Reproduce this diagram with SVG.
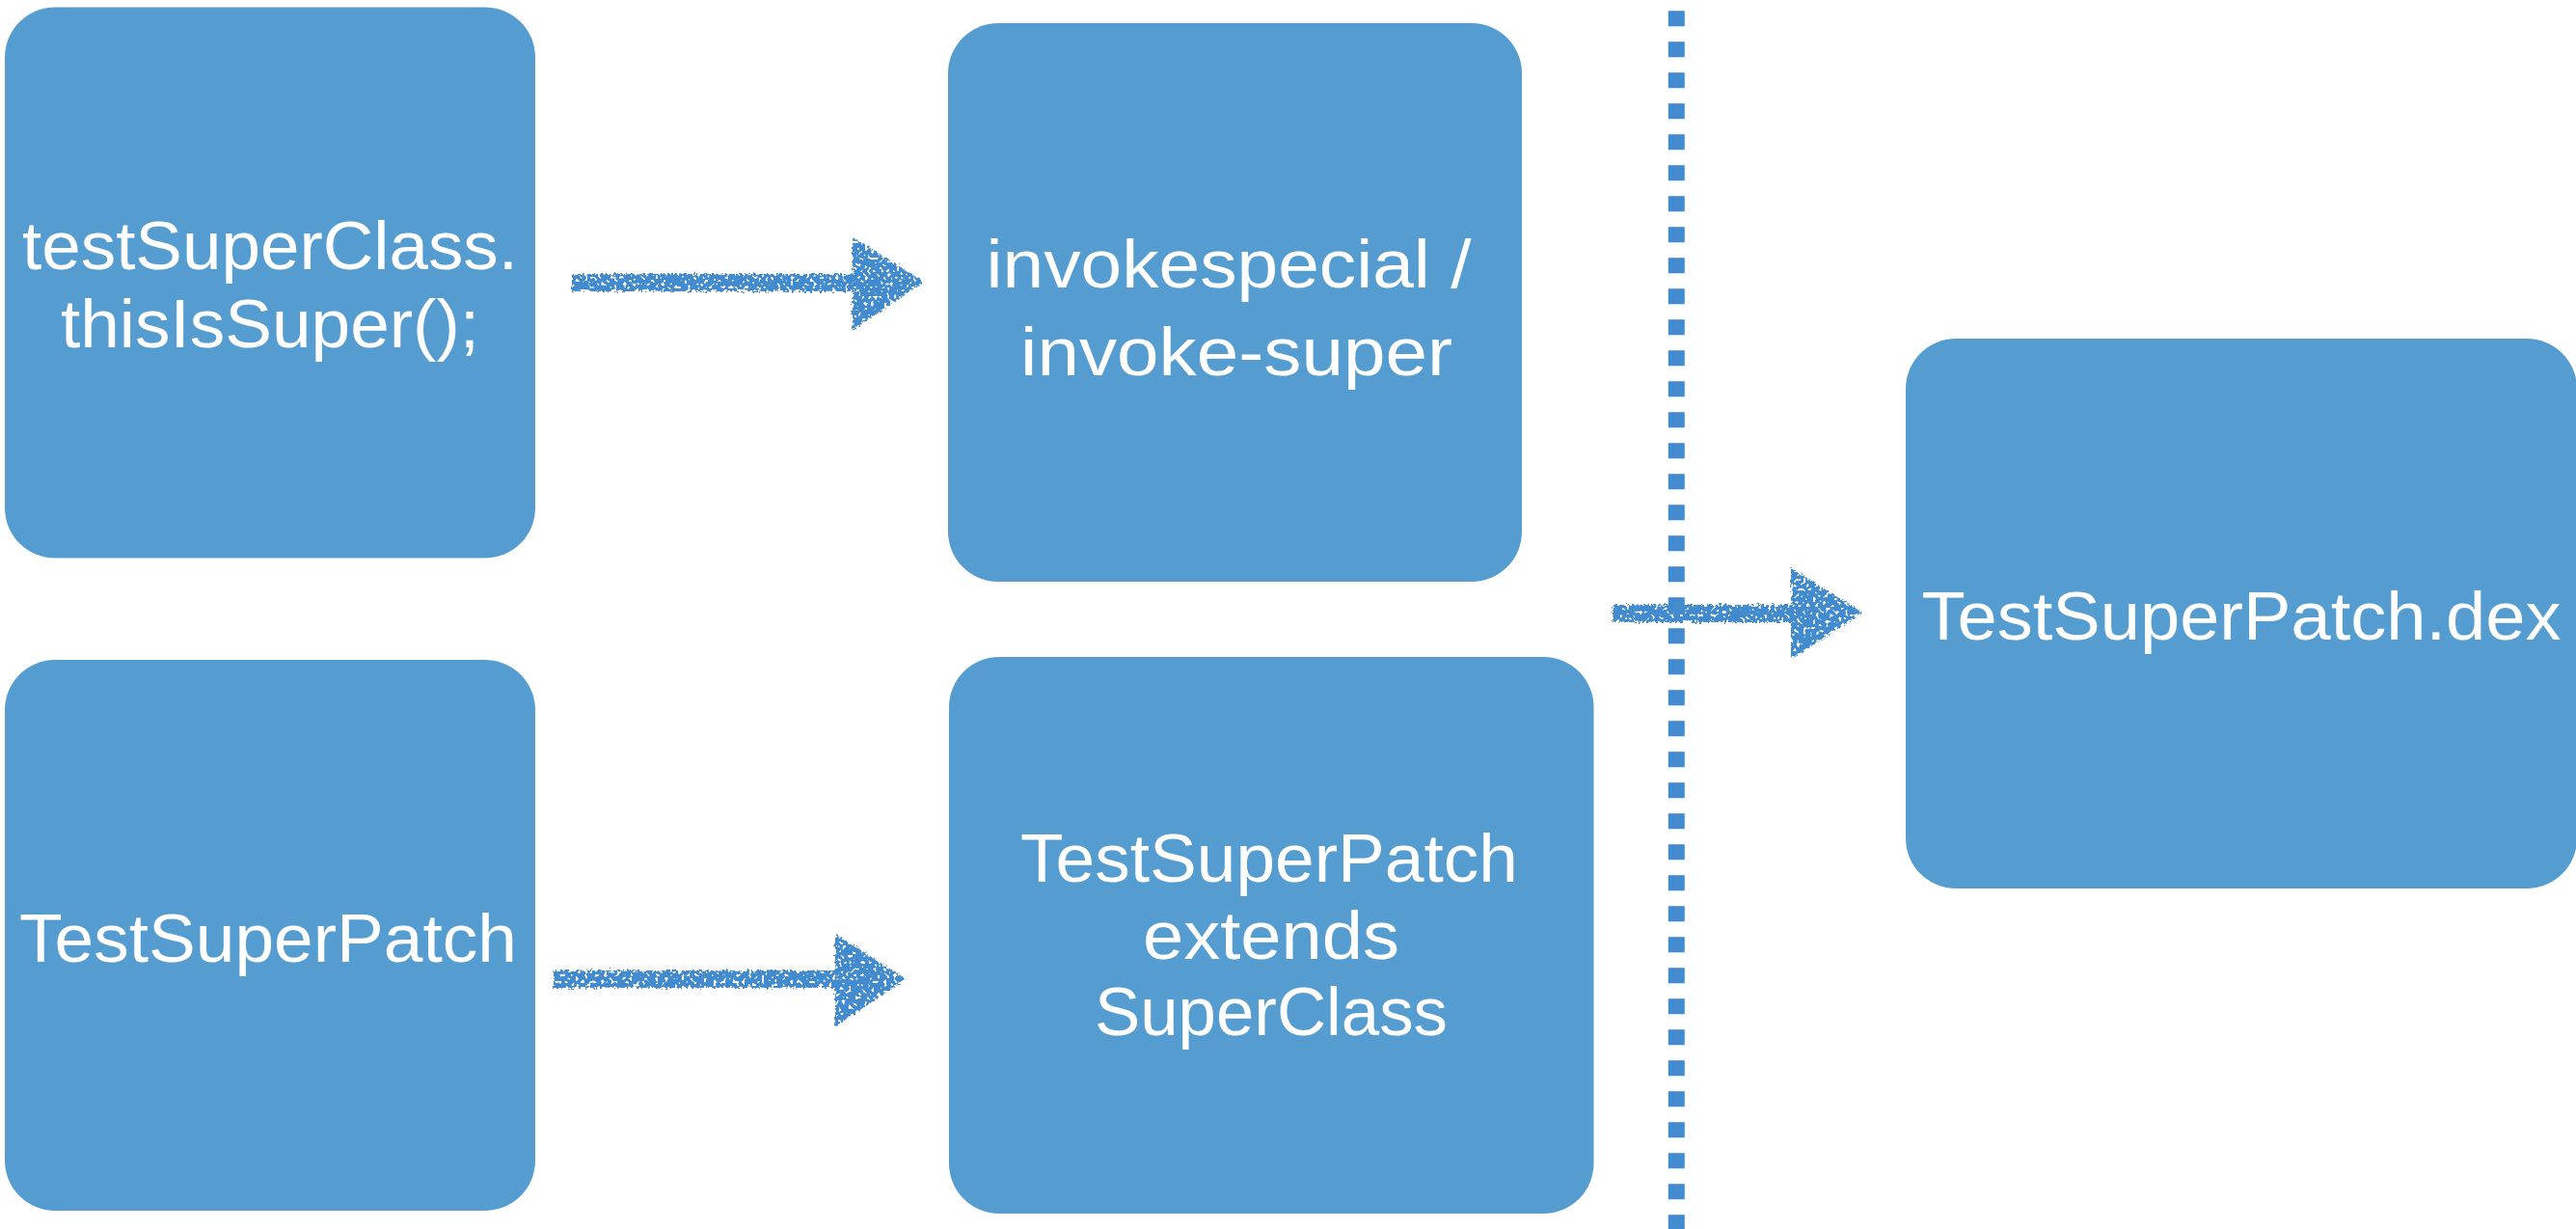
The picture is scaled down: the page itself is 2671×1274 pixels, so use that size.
<svg xmlns="http://www.w3.org/2000/svg" width="2671" height="1274" viewBox="0 0 2671 1274">
  <defs>
    <style>
      .box { fill: #559DD0; }
      .label { fill: #FFFFFF; font-family: "Liberation Sans", Arial, sans-serif; font-size: 70px; text-anchor: middle; }
      .arrow { fill: #428BCF; filter: url(#chalk); }
      .divider { stroke: #428BCF; stroke-width: 17; stroke-dasharray: 16 16; fill: none; }
    </style>
    <!-- crayon texture: ragged edges plus small speckled gaps -->
    <filter id="chalk" x="-5%" y="-20%" width="110%" height="140%">
      <feTurbulence type="fractalNoise" baseFrequency="0.4" numOctaves="2" seed="3" result="n"/>
      <feDisplacementMap in="SourceGraphic" in2="n" scale="7" xChannelSelector="R" yChannelSelector="G" result="d"/>
      <feTurbulence type="fractalNoise" baseFrequency="0.3" numOctaves="1" seed="11" result="n2"/>
      <feColorMatrix in="n2" type="matrix" values="0 0 0 0 0  0 0 0 0 0  0 0 0 0 0  0 0 0 -14 9.2" result="speck"/>
      <feComposite in="d" in2="speck" operator="in"/>
    </filter>
  </defs>

  <rect width="2671" height="1274" fill="#FFFFFF"/>

  <g id="node-call">
    <rect class="box" x="5" y="7.5" width="550" height="571" rx="52" ry="52"/>
    <text class="label" x="280" y="279" textLength="514" lengthAdjust="spacingAndGlyphs">testSuperClass.</text>
    <text class="label" x="280" y="360" textLength="434" lengthAdjust="spacingAndGlyphs">thisIsSuper();</text>
  </g>

  <g id="node-invoke">
    <rect class="box" x="983" y="24" width="595" height="579" rx="52" ry="52"/>
    <text class="label" x="1274" y="298" textLength="503" lengthAdjust="spacingAndGlyphs">invokespecial /</text>
    <text class="label" x="1282" y="389" textLength="448" lengthAdjust="spacingAndGlyphs">invoke-super</text>
  </g>

  <g id="node-patch">
    <rect class="box" x="5" y="684" width="550" height="571" rx="52" ry="52"/>
    <text class="label" x="278" y="997" textLength="516" lengthAdjust="spacingAndGlyphs">TestSuperPatch</text>
  </g>

  <g id="node-extends">
    <rect class="box" x="984" y="681" width="668.5" height="577" rx="52" ry="52"/>
    <text class="label" x="1316" y="914" textLength="516" lengthAdjust="spacingAndGlyphs">TestSuperPatch</text>
    <text class="label" x="1318" y="994" textLength="266" lengthAdjust="spacingAndGlyphs">extends</text>
    <text class="label" x="1318" y="1073" textLength="366" lengthAdjust="spacingAndGlyphs">SuperClass</text>
  </g>

  <g id="node-dex">
    <rect class="box" x="1976" y="351" width="696" height="570" rx="52" ry="52"/>
    <text class="label" x="2324" y="663" textLength="663" lengthAdjust="spacingAndGlyphs">TestSuperPatch.dex</text>
  </g>

  <g id="connectors">
    <line class="divider" x1="1738.3" y1="11.3" x2="1738.3" y2="1274"/>
    <path class="arrow" d="M593 284 H884 V246 L958 292 L884 342 V302 H593 Z"/>
    <path class="arrow" d="M574 1006 H866 V968 L939 1015 L866 1064 V1024 H574 Z"/>
    <path class="arrow" d="M1672 627 H1857 V589 L1931 635 L1857 683 V645 H1672 Z"/>
  </g>
</svg>
